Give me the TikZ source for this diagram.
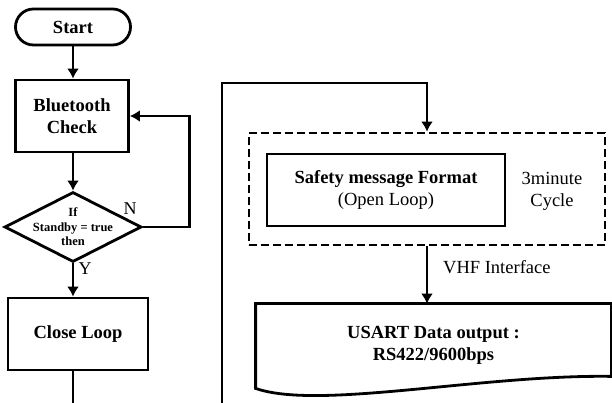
\documentclass[tikz,border=0pt]{standalone}
\usepackage{fontspec}
\setmainfont{Liberation Serif}
\usetikzlibrary{arrows.meta,positioning,shapes.geometric,shapes.misc}

\begin{document}
\begin{tikzpicture}[x=1pt,y=1pt,
            base/.style={line width=2.8pt,align=center,inner sep=0pt,font=\fontsize{18.5}{21.5}\selectfont\bfseries},
            term/.style={base,draw,rounded rectangle,minimum width=115,minimum height=36},
            proc/.style={base,draw,rectangle},
            dec/.style={draw,diamond,line width=2.8pt,minimum width=137,minimum height=70,inner sep=0pt},
            dectext/.style={align=center,inner sep=0pt,font=\fontsize{12.5}{14.5}\selectfont\bfseries},
            frame/.style={draw,line width=2.8pt,dash pattern=on 8pt off 4pt,minimum width=356,minimum height=112},
            docbox/.style={base,minimum width=353,minimum height=81},
            lab/.style={align=center,inner sep=0pt,font=\fontsize{18.5}{22}\selectfont},
            yn/.style={inner sep=0pt,font=\fontsize{18}{18}\selectfont},
            plain/.style={draw,line width=2.8pt},
            line/.style={plain,-{Latex[length=10pt,width=12pt]}}
          ]
          \useasboundingbox[fill=white] (0,0) rectangle (612,403);

          %left column
          \node[term] (start) at (73,376) {Start};
          \node[proc,minimum width=113,minimum height=72] (bt) at (72,287) {Bluetooth\\Check};
          \node[dec] (dec) at (73,176) {};
          \node[dectext] (dect) at (dec) {If\\Standby = true\\then};
          \node[proc,minimum width=140,minimum height=72] (close) at (78,69) {Close Loop};

          %right column
          \node[frame] (frame) at (427,214) {};
          \node[proc,minimum width=238,minimum height=72] (safe) at (386,213) {Safety message Format\\{\mdseries (Open Loop)}};
          \node[lab] (cyc) at (552,212) {3minute\\Cycle};
          \node[docbox] (doc) at (433.5,57.5) {USART Data output :\\RS422/9600bps};
          \path[plain] (doc.north west) -- (doc.north east) -- ([yshift=11pt]doc.south east)
            .. controls ([xshift=-130pt,yshift=13pt]doc.south east) and ([xshift=63pt,yshift=-23pt]doc.south west) .. ([yshift=-1pt]doc.south west) -- cycle;

          %labels
          \node[yn] (n) at (130,194) {N};
          \node[yn] (y) at (85,134) {Y};
          \node[lab,anchor=west] (vhf) at (443,136) {VHF Interface};

          %connectors
          \coordinate (lend) at (73,0);
          \coordinate (rend) at (222,0);
          \coordinate (rtop) at (222,320);
          \path[line] (start.south) -- (start.south |- bt.north);
          \path[line] (bt.south -| dec.north) -- (dec.north);
          \path[line] (dec.south) -- (dec.south |- close.north);
          \path[line] (dec.east) -- ++(46.5,0) |- (bt.east);
          \path[plain] (close.south -| lend) -- (lend);
          \path[line] (rend) -- (rtop) -| (frame.north);
          \path[line] (frame.south) -- (frame.south |- doc.north);
      \end{tikzpicture}
\end{document}
